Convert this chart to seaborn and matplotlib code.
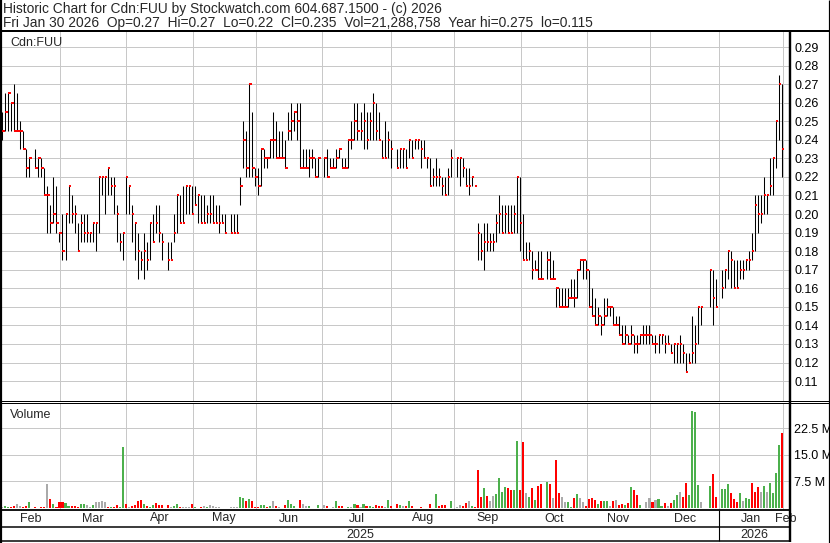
import numpy as np
import pandas as pd
import matplotlib
matplotlib.use("Agg")
import matplotlib.pyplot as plt
from matplotlib.lines import Line2D
import seaborn as sns

#-------------------
# DATA (Cdn:FUU, Feb 2025 - Jan 2026)
#-------------------

first_day, last_day = "2025-02-03", "2026-01-30"
holidays = ["2025-02-17", "2025-04-18", "2025-05-19", "2025-07-01", "2025-08-04",
            "2025-09-01", "2025-10-13", "2025-12-25", "2025-12-26", "2026-01-01"]

high = [
    # Feb
    .255, .265, .265, .26, .27, .265, .25, .245, .235, .23, .235, .23, .23, .225, .215, .205, .22, .215, .19,
    # Mar
    .20, .20, .215, .21, .205, .195, .20, .20, .20, .19, .195, .195, .22, .22, .22, .225, .22, .22, .205, .19, .19,
    # Apr
    .22, .215, .205, .195, .19, .18, .19, .185, .195, .20, .205, .205, .19, .185, .185, .20, .21, .21, .215, .215, .215,
    # May
    .215, .215, .21, .21, .21, .205, .21, .21, .205, .205, .20, .20, .20, .20, .20, .22, .25, .245, .27, .255, .225,
    # Jun
    .225, .235, .235, .23, .24, .255, .25, .245, .245, .24, .255, .26, .255, .26, .26, .235, .235, .235, .235, .23, .23,
    # Jul
    .23, .235, .23, .23, .235, .235, .23, .23, .24, .25, .26, .26, .255, .26, .255, .255, .265, .26, .255, .24, .25, .245,
    # Aug
    .24, .235, .235, .235, .235, .24, .24, .24, .24, .24, .24, .23, .23, .225, .23, .225, .22, .22, .225, .235,
    # Sep
    .23, .23, .23, .225, .225, .22, .215, .195, .19, .195, .195, .19, .19, .20, .21, .205, .205, .205, .205, .205, .22,
    # Oct
    .22, .20, .185, .185, .18, .175, .18, .18, .18, .18, .175, .16, .16, .16, .16, .16, .165, .165, .17, .175, .175, .175,
    # Nov
    .17, .16, .155, .15, .145, .155, .155, .15, .15, .145, .145, .14, .14, .135, .14, .135, .135, .135, .14, .14,
    # Dec
    .14, .135, .135, .135, .135, .135, .135, .13, .13, .13, .135, .13, .125, .125, .145, .14, .15, .15, .17, .17, .165,
    # Jan
    .17, .17, .18, .18, .175, .175, .175, .175, .175, .18, .19, .21, .21, .21, .22, .21, .23, .23, .25, .275, .27,
]

low = [
    .24, .245, .245, .245, .245, .245, .235, .235, .22, .22, .225, .22, .22, .21, .19, .19, .195, .19, .185,
    .175, .175, .195, .195, .19, .18, .185, .185, .185, .185, .185, .18, .19, .21, .20, .21, .21, .20, .185, .18, .175,
    .20, .20, .185, .175, .165, .17, .165, .17, .175, .185, .19, .185, .175, .17, .175, .185, .19, .195, .195, .20, .20,
    .20, .205, .195, .195, .195, .195, .195, .195, .195, .19, .195, .19, .19, .19, .19, .205, .225, .22, .22, .22, .215,
    .21, .215, .225, .225, .23, .23, .23, .23, .23, .225, .24, .24, .245, .24, .225, .225, .225, .22, .225, .22, .22,
    .22, .22, .225, .225, .225, .23, .225, .225, .225, .235, .24, .24, .24, .235, .235, .24, .24, .24, .24, .23, .23, .23,
    .225, .225, .225, .225, .225, .23, .23, .235, .235, .225, .23, .225, .215, .215, .215, .215, .21, .21, .21, .22,
    .22, .215, .22, .215, .21, .215, .215, .175, .175, .17, .18, .18, .18, .185, .19, .19, .19, .19, .19, .19, .19,
    .18, .175, .175, .175, .165, .17, .165, .165, .165, .165, .165, .15, .15, .15, .15, .15, .155, .15, .155, .17, .165, .165,
    .15, .145, .14, .14, .135, .14, .145, .145, .14, .14, .135, .13, .13, .13, .13, .125, .125, .13, .13, .13,
    .13, .13, .125, .125, .13, .125, .13, .125, .12, .12, .12, .12, .115, .12, .12, .12, .13, .14, .15, .14, .15,
    .155, .16, .165, .16, .16, .16, .165, .165, .17, .17, .175, .18, .19, .195, .20, .20, .21, .21, .225, .24, .22,
]

close = [
    .245, .255, .265, .26, .245, .245, .245, .235, .225, .23, .225, .23, .225, .21, .21, .195, .20, .195, .19,
    .18, .20, .215, .20, .20, .18, .195, .19, .19, .19, .195, .195, .22, .22, .22, .225, .215, .215, .20, .185, .19,
    .22, .215, .20, .195, .18, .175, .18, .175, .195, .185, .195, .19, .185, .175, .175, .19, .21, .195, .195, .215, .215,
    .20, .205, .21, .195, .195, .20, .20, .195, .195, .195, .195, .19, .19, .19, .19, .215, .24, .225, .27, .225, .22,
    .215, .235, .23, .23, .24, .24, .23, .23, .23, .225, .245, .25, .255, .25, .225, .225, .225, .23, .23, .22, .23,
    .23, .22, .225, .225, .23, .235, .225, .225, .24, .24, .25, .245, .245, .25, .24, .25, .26, .245, .24, .23, .23, .24,
    .235, .225, .235, .235, .225, .24, .23, .24, .24, .235, .23, .23, .215, .22, .22, .22, .215, .21, .22, .23,
    .23, .23, .225, .215, .215, .22, .215, .19, .18, .185, .185, .185, .185, .195, .20, .19, .20, .19, .19, .20, .22,
    .195, .175, .175, .18, .17, .17, .165, .165, .175, .165, .165, .16, .15, .15, .15, .155, .155, .155, .17, .175, .175, .17,
    .15, .145, .14, .145, .14, .145, .15, .15, .14, .14, .135, .13, .135, .13, .135, .13, .13, .135, .135, .135,
    .135, .13, .13, .135, .135, .13, .13, .125, .13, .13, .13, .125, .115, .12, .125, .13, .15, .15, .17, .155, .15,
    .16, .17, .18, .175, .16, .16, .17, .17, .175, .175, .18, .205, .20, .20, .21, .21, .215, .23, .25, .27, .235,
]

# daily volume, millions of shares
volume = [
    .29, .58, .15, .29, .58, 1.06, .58, .29, .58, 1.74, .29, .1, .15, .29, 6.66, 2.6, 1.16, .15, 1.74,
    1.74, 1.45, .58, .58, .58, .29, 1.16, 1.16, .87, .29, .87, 1.74, 1.74, 2.03, 1.74, .29, .29, .29, .87, .29, 17.2,
    1.16, .29, .58, .87, 2.03, 2.32, 1.16, .58, .29, .87, 1.45, .87, .87, .87, .15, .58, 1.16, .15, .15, .15, .15,
    1.16, .15, .1, .15, .58, .29, .87, .58, .29, .15, .1, .1, .29, .29, .29, 3.09, 2.9, 2.03, 2.6, 2.03, .29,
    .29, .87, .87, .29, .58, 2.03, .58, .29, .1, .77, 2.3, 1.16, .58, .1, 2.3, .97, .48, .58, .1, .1, .87,
    .87, .39, .1, .29, 2.03, .58, .58, .1, .29, .29, 1.16, .87, .29, 1.16, .58, .58, .29, .87, .58, .58, .29, 2.3,
    .58, 1.16, .87, .58, .58, 2.03, .58, .1, .1, .29, .1, .1, 1.16, .1, 3.77, .58, .87, .87, .1, 1.83,
    .29, .87, .58, 1.45, 2.03, .58, .29, 10.8, 3.19, 5.5, 3.48, 2.03, 3.48, 3.77, 8.4, 4.6, 5.8, 5.5, 4.9, 4.9, 18.8,
    4.9, 18.5, 4.3, 3.19, 5.5, 2.3, 6.08, 6.66, 7.2, 6.6, 2.9, 13.4, 4.1, 3.2, 1.7, 1.7, .3, 2.9, 3.8, 2.9, 1.7, .6,
    2.6, 2.9, 2.3, 1.2, 2.0, 2.0, 2.0, .6, 2.0, 2.3, .9, 1.2, .9, 1.5, 5.8, 4.9, 3.5, .9, .1, 1.7,
    2.9, 1.7, 2.3, 2.6, .6, 1.5, .6, 1.5, 2.3, 3.5, 4.6, 3.2, 7.0, 3.5, 27.3, 27.0, 6.4, 1.7, 6.1, 9.6, 3.2,
    5.2, 5.2, 6.7, 4.1, 2.6, 1.7, 4.1, 2.0, 2.9, 2.6, 7.0, 4.6, 5.8, 4.4, 6.1, 4.6, 7.0, 4.1, 9.9, 17.7, 21.2,
]

# g = up day, r = down day, n = unchanged (volume bar colour)
direction = ("nggrrnnrrgrnrrnrgrr"
             "rggrrrggnngnnnnrgrrgg"
             "rnrrrrgrggrrrrnggrnnn"
             "rgnrngnnnnnrnnnggrgrr"
             "rggrgnrnnrgggrrnngnrg"
             "nrgngrrngngrngrggrrrng"
             "rrgnrgrgnrrnrggrrrgg"
             "nnrrngrrrgrnnggggrrgg"
             "rrngrgrrgrnrrnnggrgnnr"
             "rrrgrggnrnrrgrgrrgnn"
             "nrnggrnrggnrrggggngrr"
             "gggrrrgnggrrrngnggggr")

month_names = ["Feb", "Mar", "Apr", "May", "Jun", "Jul", "Aug", "Sep", "Oct", "Nov", "Dec", "Jan", "Feb"]
years = ["2025", "2026"]
price_ticks = [.11, .12, .13, .14, .15, .16, .17, .18, .19, .20, .21, .22, .23, .24, .25, .26, .27, .28, .29]
vol_ticks = [7.5, 15.0, 22.5]

header1 = "Historic Chart for Cdn:FUU by Stockwatch.com 604.687.1500 - (c) 2026"
header2 = "Fri Jan 30 2026  Op=0.27  Hi=0.27  Lo=0.22  Cl=0.235  Vol=21,288,758  Year hi=0.275  lo=0.115"

#-------------------
# FIGURE
#-------------------

W, H = 830, 543
GRID = "#c8c8c8"
dir_colors = {"g": "#4cb04c", "r": "#ff0000", "n": "#aaaaaa"}

sns.set_theme(style="white")
plt.rcParams['font.family'] = ['Liberation Sans', 'DejaVu Sans']

# x position = weekday number, so holidays leave a gap like on the original
days = pd.bdate_range(first_day, last_day)
trade_days = days[~days.isin(pd.to_datetime(holidays))]
df = pd.DataFrame({"x": days.get_indexer(trade_days), "high": high, "low": low,
                   "close": close, "vol": volume, "dir": list(direction)})

# month gridlines sit on the last weekday on/before the 1st
month_starts = pd.date_range("2025-03-01", "2026-02-01", freq="MS")
grid_x = np.array([days.searchsorted(d, side="right") - 1 + 0.2 for d in month_starts])
jan_x = grid_x[10]

xlo, xhi = -0.43, 261.45
fig = plt.figure(figsize=(W / 100, H / 100), dpi=100)


def box(x0, y0, x1, y1):
    # axes placed in pixel coords (y from top)
    return fig.add_axes([x0 / W, 1 - y1 / H, (x1 - x0) / W, (y1 - y0) / H])


def fline(x0, y0, x1, y1, lw=1.0):
    fig.add_artist(Line2D([x0 / W, x1 / W], [1 - y0 / H, 1 - y1 / H], lw=lw * 0.72,
                          color="black", solid_capstyle="butt"))


ax_p = box(1, 31, 789.3, 400.5)
ax_v = box(1, 402.5, 789.3, 510)

for ax in (ax_p, ax_v):
    ax.set_xlim(xlo, xhi)
    ax.set_xticks(grid_x)
    ax.set_xticklabels([])
    ax.grid(True, color=GRID, lw=0.72)
    ax.set_axisbelow(True)
    ax.yaxis.tick_right()
    ax.tick_params(axis="both", length=0, labelsize=9, colors="black")
    ax.tick_params(axis="y", pad=3.4)
    for s in ax.spines.values():
        s.set_visible(False)

# price panel: high-low bar + red close tick on the right
ax_p.set_ylim(0.29 - 353.5 / 1856, 0.29 + 16 / 1856)
ax_p.set_yticks(price_ticks)
ax_p.set_yticklabels([f"{t:.2f}" for t in price_ticks])
ax_p.vlines(df["x"], df["low"], df["high"], colors="black", linewidths=0.75, zorder=3, snap=True)
ax_p.hlines(df["close"], df["x"], df["x"] + 0.8, colors="#ff0000", linewidths=1.4, zorder=4, snap=True)
ax_p.text(9 / 788.3, 1 - 15 / 369.5, "Cdn:FUU", transform=ax_p.transAxes, fontsize=9, va="baseline")

# volume panel
ax_v.set_ylim(-0.6, 29.7)
ax_v.set_yticks(vol_ticks)
ax_v.set_yticklabels([f"{t:.1f} M" for t in vol_ticks])
sns.barplot(data=df, x="x", y="vol", hue="dir", palette=dir_colors, native_scale=True,
            dodge=False, width=0.68, saturation=1, errorbar=None, linewidth=0,
            legend=False, ax=ax_v)
ax_v.set_xlim(xlo, xhi)
ax_v.set_xticks(grid_x)
ax_v.set_xticklabels([])
ax_v.set_xlabel("")
ax_v.set_ylabel("")
ax_v.text(9 / 788.3, 1 - 15.2 / 107.5, "Volume", transform=ax_v.transAxes, fontsize=9, va="baseline")

# date strip: months and years
ax_d = box(1, 510, 789.3, 541.5)
ax_d.set_xlim(xlo, xhi)
ax_d.set_ylim(541.5, 510)
ax_d.axis("off")
edges = np.concatenate([[xlo], grid_x])
label_x = list((edges[:-1] + edges[1:]) / 2) + [grid_x[-1] + 1.0]
for lx, name in zip(label_x, month_names):
    ax_d.text(lx, 518.5, name, ha="center", va="center", fontsize=9)
ax_d.text((xlo + jan_x) / 2, 534.5, years[0], ha="center", va="center", fontsize=9)
ax_d.text((jan_x + xhi) / 2, 534.5, years[1], ha="center", va="center", fontsize=9)
ax_d.vlines(jan_x, 510, 541, colors="black", linewidth=0.8)

# header
fig.text(3 / W, 1 - 12.7 / H, header1, fontsize=9.9, va="baseline")
fig.text(3 / W, 1 - 26.7 / H, header2, fontsize=9.9, va="baseline")

# frame lines
fline(0, 30.9, W, 30.9, 2)
fline(0, 400.5, W, 400.5, 1)
fline(0, 402.8, W, 402.8, 1)
fline(0, 510, 790.5, 510, 1.8)
fline(0, 527, 790.5, 527, 1.5)
fline(0, 541, 790.5, 541, 1.5)
fline(1, 0, 1, H, 2.2)
fline(789.5, 30, 789.5, 542, 2.4)
fline(829.3, 0, 829.3, H, 1.2)

fig.savefig("out.png", dpi=100)
